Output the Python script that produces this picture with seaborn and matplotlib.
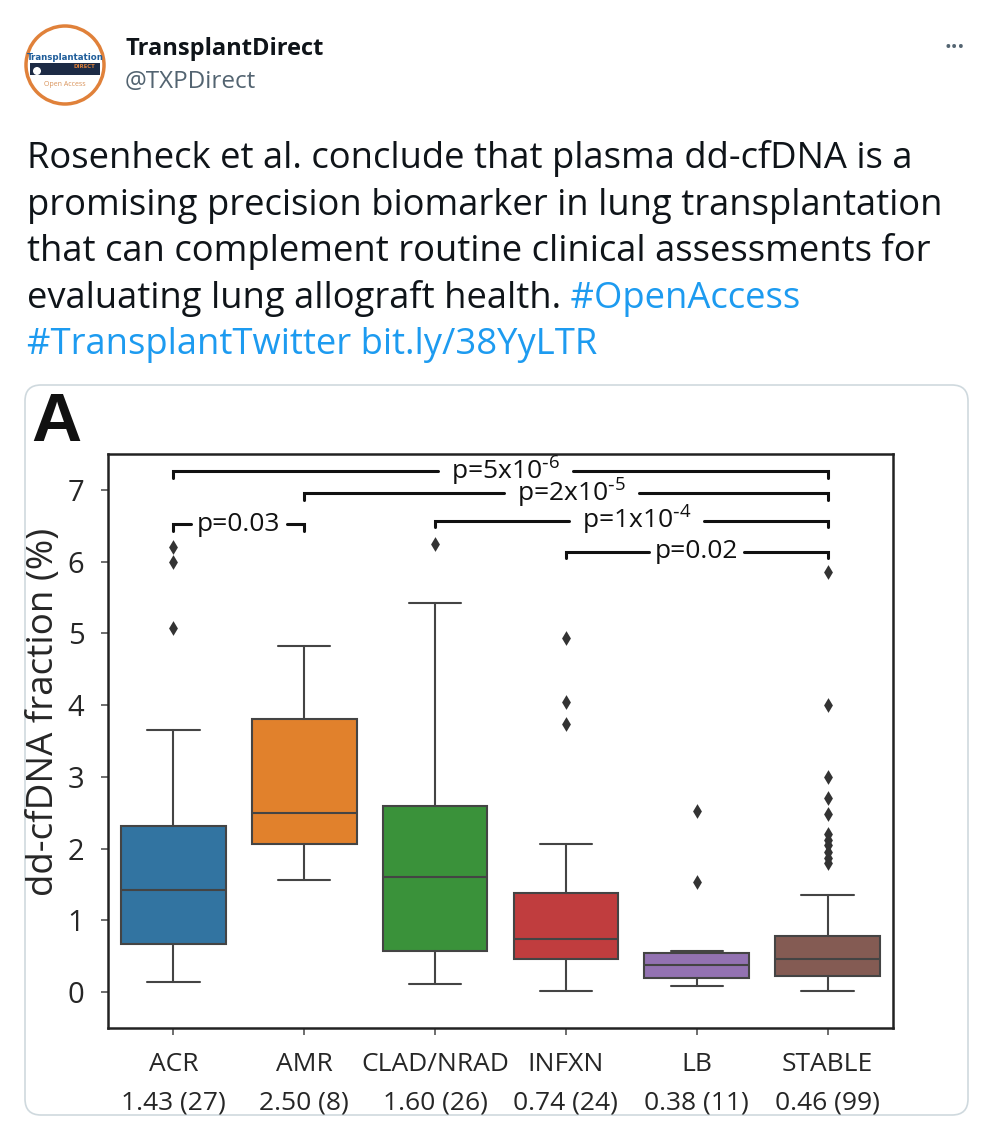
import matplotlib
matplotlib.use("Agg")

import numpy as np
import pandas as pd
import matplotlib.pyplot as plt
from matplotlib.patches import FancyBboxPatch, Circle, Rectangle
import seaborn as sns

# --- data ---
groups = ["ACR", "AMR", "CLAD/NRAD", "INFXN", "LB", "STABLE"]
group_notes = ["1.43 (27)", "2.50 (8)", "1.60 (26)", "0.74 (24)", "0.38 (11)", "0.46 (99)"]
medians = [1.43, 2.50, 1.60, 0.74, 0.38, 0.46]
q1 = [0.67, 2.06, 0.58, 0.46, 0.20, 0.22]
q3 = [2.32, 3.80, 2.60, 1.38, 0.54, 0.78]
whisk_low = [0.14, 1.56, 0.11, 0.02, 0.08, 0.02]
whisk_high = [3.65, 4.83, 5.42, 2.06, 0.57, 1.36]

outlier_group = (["ACR"] * 3 + ["CLAD/NRAD"] + ["INFXN"] * 3 + ["LB"] * 2
                 + ["STABLE"] * 11)
outlier_value = [5.08, 6.00, 6.20,
                 6.24,
                 3.73, 4.05, 4.93,
                 1.53, 2.53,
                 1.80, 1.87, 1.95, 2.05, 2.12, 2.20, 2.48, 2.70, 3.00, 4.00, 5.85]

# significance brackets
cmp_left = ["ACR", "AMR", "CLAD/NRAD", "INFXN", "ACR"]
cmp_right = ["STABLE", "STABLE", "STABLE", "STABLE", "AMR"]
cmp_label = [r"p=5x10$^{\text{-}6}$", r"p=2x10$^{\text{-}5}$", r"p=1x10$^{\text{-}4}$",
             "p=0.02", "p=0.03"]
cmp_height = [7.26, 6.95, 6.57, 6.14, 6.52]

tweet_lines = [
    "Rosenheck et al. conclude that plasma dd-cfDNA is a",
    "promising precision biomarker in lung transplantation",
    "that can complement routine clinical assessments for",
    "evaluating lung allograft health.",
]
tweet_tags_line4 = " #OpenAccess"
tweet_tags_line5 = "#TransplantTwitter bit.ly/38YyLTR"

W, H = 991, 1140

sns.set_theme(style="ticks")
plt.rcParams["font.family"] = ["Open Sans", "DejaVu Sans"]
plt.rcParams["mathtext.default"] = "regular"

fig = plt.figure(figsize=(W / 100, H / 100), dpi=100, facecolor="white")

# page layer in pixel coordinates
bg = fig.add_axes([0, 0, 1, 1], zorder=0)
bg.set_xlim(0, W)
bg.set_ylim(H, 0)
bg.axis("off")

# avatar
bg.add_patch(Circle((65, 65), 39, fc="white", ec="#e0813a", lw=2.5))
bg.text(65, 58, "Transplantation", ha="center", va="center", fontsize=6.2,
        color="#1f5d9a", fontweight="bold", family=["Liberation Sans Narrow", "DejaVu Sans"])
bg.add_patch(Rectangle((30, 63), 70, 12, fc="#1d2b45", ec="none"))
bg.text(95, 67, "DIRECT", ha="right", va="center", fontsize=4.5, color="#e0813a",
        fontweight="bold")
bg.add_patch(Circle((37, 71), 4, fc="white", ec="none"))
bg.text(65, 85, "Open Access", ha="center", va="center", fontsize=5, color="#d9935a")

bg.text(125, 55, "TransplantDirect", fontsize=17, fontweight="bold", color="#0f1419")
bg.text(125, 88, "@TXPDirect", fontsize=17.5, color="#536471")
bg.text(955, 53, "\u2022\u2022\u2022", fontsize=13, color="#536471", ha="center")

baselines = [168, 215, 261, 308, 354]
fs_tweet = 26.2
for txt, yb in zip(tweet_lines, baselines):
    t = bg.text(27, yb, txt, fontsize=fs_tweet, color="#0f1419", va="baseline")
bg.annotate(tweet_tags_line4, xy=(1, 0), xycoords=t, fontsize=fs_tweet,
            color="#1d9bf0", va="bottom", ha="left")
bg.text(27, baselines[4], tweet_tags_line5, fontsize=fs_tweet, color="#1d9bf0",
        va="baseline")

# image card
bg.add_patch(FancyBboxPatch((25, 385), 943, 730, boxstyle="round,pad=0,rounding_size=16",
                            fc="white", ec="#cfd9de", lw=1.2))
bg.text(31, 441, "A", fontsize=50, fontweight="heavy", color="#111111",
        family=["Liberation Sans", "DejaVu Sans"], va="baseline")

# --- chart ---
ax = fig.add_axes([108 / W, 1 - 1028 / H, (893 - 108) / W, (1028 - 454) / H], zorder=2)
palette = sns.color_palette("tab10", len(groups), desat=0.75)
line_gray = "#444444"

stats = [dict(med=m, q1=a, q3=b, whislo=lo, whishi=hi, fliers=[])
         for m, a, b, lo, hi in zip(medians, q1, q3, whisk_low, whisk_high)]
bp = ax.bxp(stats, positions=range(len(groups)), widths=0.8, capwidths=0.4,
            patch_artist=True, showfliers=False, manage_ticks=False,
            boxprops=dict(edgecolor=line_gray, linewidth=1.5),
            medianprops=dict(color=line_gray, linewidth=1.5),
            whiskerprops=dict(color=line_gray, linewidth=1.5),
            capprops=dict(color=line_gray, linewidth=1.5))
for patch, c in zip(bp["boxes"], palette):
    patch.set_facecolor(c)

outliers = pd.DataFrame({"group": outlier_group, "value": outlier_value})
sns.stripplot(data=outliers, x="group", y="value", order=groups, jitter=False,
              marker="d", size=7.5, color="#333333", linewidth=0, ax=ax, zorder=3)

ax.set_xlim(-0.5, len(groups) - 0.5)
ax.set_ylim(-0.5, 7.5)
ax.set_yticks(range(0, 8))
ax.set_yticklabels([str(v) for v in range(0, 8)], fontsize=21)
ax.set_xticks(range(len(groups)))
ax.set_xticklabels([f"{g}\n{n}" for g, n in zip(groups, group_notes)],
                   fontsize=19, linespacing=1.75)
ax.set_xlabel("")
ax.set_ylabel("dd-cfDNA fraction (%)", fontsize=26.5)
ax.yaxis.set_label_coords(-0.059, 0.55)
ax.tick_params(axis="y", length=5, width=1.2, color="#555555", pad=12)
ax.tick_params(axis="x", length=5, width=1.2, color="#555555", pad=12)
for sp in ax.spines.values():
    sp.set_visible(True)
    sp.set_linewidth(1.8)
    sp.set_color("#222222")

# significance brackets: text first, then the line broken around it
renderer = fig.canvas.get_renderer()
to_data = ax.transData.inverted()
pos = {g: i for i, g in enumerate(groups)}
for a, b, lab, h in zip(cmp_left, cmp_right, cmp_label, cmp_height):
    x0, x1 = pos[a], pos[b]
    has_exp = "$" in lab
    xc = (x0 + x1) / 2 + (0.04 if has_exp else 0)
    txt = ax.text(xc, h, lab, ha="center", va="center", fontsize=19,
                  color="#111111", zorder=5)
    bb = txt.get_window_extent(renderer)
    gap = 13 if has_exp else 6
    gx0 = to_data.transform((bb.x0 - gap, 0))[0]
    gx1 = to_data.transform((bb.x1 + gap, 0))[0]
    ax.plot([x0, x0, gx0], [h - 0.09, h, h], color="#111111", lw=2.2,
            solid_joinstyle="miter", zorder=4)
    ax.plot([gx1, x1, x1], [h, h, h - 0.09], color="#111111", lw=2.2,
            solid_joinstyle="miter", zorder=4)

fig.savefig("out.png", dpi=100, facecolor="white")
